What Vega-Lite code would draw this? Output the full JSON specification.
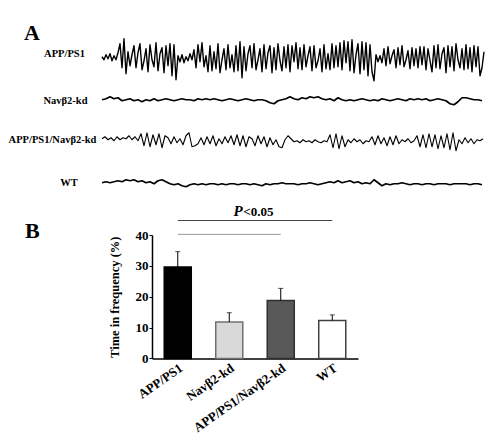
{
"$schema": "https://vega.github.io/schema/vega-lite/v6.json",
"background": "white",
"padding": {"left": 8, "top": 22, "right": 5, "bottom": 5},
"bounds": "flush",
"spacing": 0,
"config": {"view": {"stroke": null}, "font": "Liberation Serif", "axis": {"labelOverlap": false, "labelSeparation": 0}},
"datasets": {"eeg": [
{"trace":"APP/PS1","t":0,"v":1},{"trace":"APP/PS1","t":2,"v":-2},{"trace":"APP/PS1","t":4,"v":3},{"trace":"APP/PS1","t":6,"v":-1},{"trace":"APP/PS1","t":8,"v":4},{"trace":"APP/PS1","t":10,"v":-3},{"trace":"APP/PS1","t":12,"v":2},{"trace":"APP/PS1","t":14,"v":-2},{"trace":"APP/PS1","t":16,"v":5},
{"trace":"APP/PS1","t":18,"v":14},{"trace":"APP/PS1","t":20,"v":-10},{"trace":"APP/PS1","t":22,"v":19},{"trace":"APP/PS1","t":24,"v":-16},
{"trace":"APP/PS1","t":26,"v":6},{"trace":"APP/PS1","t":28,"v":-8},{"trace":"APP/PS1","t":30,"v":3},
{"trace":"APP/PS1","t":32,"v":12},{"trace":"APP/PS1","t":34,"v":-10},{"trace":"APP/PS1","t":36,"v":5},{"trace":"APP/PS1","t":38,"v":14},{"trace":"APP/PS1","t":40,"v":-12},{"trace":"APP/PS1","t":42,"v":-3},{"trace":"APP/PS1","t":44,"v":9},{"trace":"APP/PS1","t":46,"v":-14},{"trace":"APP/PS1","t":48,"v":13},{"trace":"APP/PS1","t":50,"v":-2},
{"trace":"APP/PS1","t":52,"v":-9},{"trace":"APP/PS1","t":54,"v":15},{"trace":"APP/PS1","t":56,"v":-13},{"trace":"APP/PS1","t":58,"v":4},{"trace":"APP/PS1","t":60,"v":10},{"trace":"APP/PS1","t":62,"v":-15},{"trace":"APP/PS1","t":64,"v":12},{"trace":"APP/PS1","t":66,"v":-8},{"trace":"APP/PS1","t":68,"v":14},{"trace":"APP/PS1","t":70,"v":-18},
{"trace":"APP/PS1","t":72,"v":13},{"trace":"APP/PS1","t":74,"v":-22},
{"trace":"APP/PS1","t":76,"v":2},{"trace":"APP/PS1","t":78,"v":-4},{"trace":"APP/PS1","t":80,"v":3},{"trace":"APP/PS1","t":82,"v":-5},{"trace":"APP/PS1","t":84,"v":1},{"trace":"APP/PS1","t":86,"v":-3},{"trace":"APP/PS1","t":88,"v":4},{"trace":"APP/PS1","t":90,"v":-2},
{"trace":"APP/PS1","t":92,"v":8},{"trace":"APP/PS1","t":94,"v":-10},{"trace":"APP/PS1","t":96,"v":13},{"trace":"APP/PS1","t":98,"v":-4},{"trace":"APP/PS1","t":100,"v":15},{"trace":"APP/PS1","t":102,"v":-9},{"trace":"APP/PS1","t":104,"v":2},{"trace":"APP/PS1","t":106,"v":-14},{"trace":"APP/PS1","t":108,"v":12},{"trace":"APP/PS1","t":110,"v":-13},
{"trace":"APP/PS1","t":112,"v":6},{"trace":"APP/PS1","t":114,"v":-11},{"trace":"APP/PS1","t":116,"v":14},{"trace":"APP/PS1","t":118,"v":-15},{"trace":"APP/PS1","t":120,"v":-2},{"trace":"APP/PS1","t":122,"v":9},{"trace":"APP/PS1","t":124,"v":-12},{"trace":"APP/PS1","t":126,"v":13},{"trace":"APP/PS1","t":128,"v":-10},{"trace":"APP/PS1","t":130,"v":3},
{"trace":"APP/PS1","t":132,"v":-14},{"trace":"APP/PS1","t":134,"v":12},{"trace":"APP/PS1","t":136,"v":-13},
{"trace":"APP/PS1","t":138,"v":16},{"trace":"APP/PS1","t":140,"v":-20},
{"trace":"APP/PS1","t":142,"v":11},{"trace":"APP/PS1","t":144,"v":-13},{"trace":"APP/PS1","t":146,"v":4},{"trace":"APP/PS1","t":148,"v":12},{"trace":"APP/PS1","t":150,"v":-10},{"trace":"APP/PS1","t":152,"v":14},{"trace":"APP/PS1","t":154,"v":-12},{"trace":"APP/PS1","t":156,"v":-2},{"trace":"APP/PS1","t":158,"v":9},{"trace":"APP/PS1","t":160,"v":-14},
{"trace":"APP/PS1","t":162,"v":13},{"trace":"APP/PS1","t":164,"v":-11},{"trace":"APP/PS1","t":166,"v":5},{"trace":"APP/PS1","t":168,"v":12},{"trace":"APP/PS1","t":170,"v":-15},{"trace":"APP/PS1","t":172,"v":10},{"trace":"APP/PS1","t":174,"v":-12},{"trace":"APP/PS1","t":176,"v":14},{"trace":"APP/PS1","t":178,"v":-3},{"trace":"APP/PS1","t":180,"v":-13},
{"trace":"APP/PS1","t":182,"v":11},{"trace":"APP/PS1","t":184,"v":-10},{"trace":"APP/PS1","t":186,"v":13},{"trace":"APP/PS1","t":188,"v":-14},{"trace":"APP/PS1","t":190,"v":12},{"trace":"APP/PS1","t":192,"v":-4},{"trace":"APP/PS1","t":194,"v":15},{"trace":"APP/PS1","t":196,"v":-11},
{"trace":"APP/PS1","t":198,"v":10},{"trace":"APP/PS1","t":200,"v":-12},{"trace":"APP/PS1","t":202,"v":13},{"trace":"APP/PS1","t":204,"v":-9},{"trace":"APP/PS1","t":206,"v":2},{"trace":"APP/PS1","t":208,"v":11},{"trace":"APP/PS1","t":210,"v":-13},{"trace":"APP/PS1","t":212,"v":12},{"trace":"APP/PS1","t":214,"v":-10},{"trace":"APP/PS1","t":216,"v":-3},
{"trace":"APP/PS1","t":218,"v":9},{"trace":"APP/PS1","t":220,"v":-14},{"trace":"APP/PS1","t":222,"v":13},{"trace":"APP/PS1","t":224,"v":-11},{"trace":"APP/PS1","t":226,"v":4},{"trace":"APP/PS1","t":228,"v":-12},{"trace":"APP/PS1","t":230,"v":14},{"trace":"APP/PS1","t":232,"v":-10},{"trace":"APP/PS1","t":234,"v":12},{"trace":"APP/PS1","t":236,"v":-9},
{"trace":"APP/PS1","t":238,"v":15},{"trace":"APP/PS1","t":240,"v":-12},{"trace":"APP/PS1","t":242,"v":17},{"trace":"APP/PS1","t":244,"v":-5},{"trace":"APP/PS1","t":246,"v":16},{"trace":"APP/PS1","t":248,"v":-13},{"trace":"APP/PS1","t":250,"v":18},{"trace":"APP/PS1","t":252,"v":-15},{"trace":"APP/PS1","t":254,"v":3},{"trace":"APP/PS1","t":256,"v":14},
{"trace":"APP/PS1","t":258,"v":-16},{"trace":"APP/PS1","t":260,"v":16},{"trace":"APP/PS1","t":262,"v":-12},{"trace":"APP/PS1","t":264,"v":15},{"trace":"APP/PS1","t":266,"v":-18},{"trace":"APP/PS1","t":268,"v":13},{"trace":"APP/PS1","t":270,"v":-14},{"trace":"APP/PS1","t":272,"v":-23},
{"trace":"APP/PS1","t":274,"v":3},{"trace":"APP/PS1","t":276,"v":-4},{"trace":"APP/PS1","t":278,"v":2},{"trace":"APP/PS1","t":280,"v":-5},
{"trace":"APP/PS1","t":282,"v":9},{"trace":"APP/PS1","t":284,"v":-8},{"trace":"APP/PS1","t":286,"v":11},{"trace":"APP/PS1","t":288,"v":-6},{"trace":"APP/PS1","t":290,"v":2},{"trace":"APP/PS1","t":292,"v":8},{"trace":"APP/PS1","t":294,"v":-10},{"trace":"APP/PS1","t":296,"v":10},{"trace":"APP/PS1","t":298,"v":-7},{"trace":"APP/PS1","t":300,"v":12},
{"trace":"APP/PS1","t":302,"v":-9},{"trace":"APP/PS1","t":304,"v":-2},{"trace":"APP/PS1","t":306,"v":7},{"trace":"APP/PS1","t":308,"v":-11},{"trace":"APP/PS1","t":310,"v":10},{"trace":"APP/PS1","t":312,"v":-8},{"trace":"APP/PS1","t":314,"v":9},{"trace":"APP/PS1","t":316,"v":-10},{"trace":"APP/PS1","t":318,"v":11},{"trace":"APP/PS1","t":320,"v":-7},
{"trace":"APP/PS1","t":322,"v":11},{"trace":"APP/PS1","t":324,"v":-12},{"trace":"APP/PS1","t":326,"v":9},{"trace":"APP/PS1","t":328,"v":-3},{"trace":"APP/PS1","t":330,"v":-14},{"trace":"APP/PS1","t":332,"v":12},{"trace":"APP/PS1","t":334,"v":-10},{"trace":"APP/PS1","t":336,"v":13},{"trace":"APP/PS1","t":338,"v":-11},{"trace":"APP/PS1","t":340,"v":4},
{"trace":"APP/PS1","t":342,"v":10},{"trace":"APP/PS1","t":344,"v":-15},{"trace":"APP/PS1","t":346,"v":12},{"trace":"APP/PS1","t":348,"v":-9},{"trace":"APP/PS1","t":350,"v":11},{"trace":"APP/PS1","t":352,"v":-13},{"trace":"APP/PS1","t":354,"v":14},{"trace":"APP/PS1","t":356,"v":-2},{"trace":"APP/PS1","t":358,"v":-10},{"trace":"APP/PS1","t":360,"v":9},
{"trace":"APP/PS1","t":362,"v":-12},{"trace":"APP/PS1","t":364,"v":13},{"trace":"APP/PS1","t":366,"v":-11},{"trace":"APP/PS1","t":368,"v":10},{"trace":"APP/PS1","t":370,"v":-14},{"trace":"APP/PS1","t":372,"v":12},{"trace":"APP/PS1","t":374,"v":-9},{"trace":"APP/PS1","t":376,"v":11},{"trace":"APP/PS1","t":378,"v":-18},{"trace":"APP/PS1","t":380,"v":-10},
{"trace":"APP/PS1","t":382,"v":6},
{"trace":"Navβ2-kd","t":0,"v":0},{"trace":"Navβ2-kd","t":4,"v":1},{"trace":"Navβ2-kd","t":8,"v":3},{"trace":"Navβ2-kd","t":12,"v":1},{"trace":"Navβ2-kd","t":16,"v":2},{"trace":"Navβ2-kd","t":20,"v":-1},{"trace":"Navβ2-kd","t":24,"v":0},{"trace":"Navβ2-kd","t":28,"v":1},{"trace":"Navβ2-kd","t":32,"v":-1},{"trace":"Navβ2-kd","t":36,"v":0},
{"trace":"Navβ2-kd","t":40,"v":-2},{"trace":"Navβ2-kd","t":44,"v":0},{"trace":"Navβ2-kd","t":48,"v":-1},{"trace":"Navβ2-kd","t":52,"v":1},{"trace":"Navβ2-kd","t":56,"v":-1},{"trace":"Navβ2-kd","t":60,"v":0},{"trace":"Navβ2-kd","t":64,"v":1},{"trace":"Navβ2-kd","t":68,"v":0},{"trace":"Navβ2-kd","t":72,"v":-1},{"trace":"Navβ2-kd","t":76,"v":0},
{"trace":"Navβ2-kd","t":80,"v":1},{"trace":"Navβ2-kd","t":84,"v":0},{"trace":"Navβ2-kd","t":88,"v":0},{"trace":"Navβ2-kd","t":92,"v":-1},{"trace":"Navβ2-kd","t":96,"v":1},{"trace":"Navβ2-kd","t":100,"v":0},{"trace":"Navβ2-kd","t":104,"v":1},{"trace":"Navβ2-kd","t":108,"v":0},{"trace":"Navβ2-kd","t":112,"v":1},{"trace":"Navβ2-kd","t":116,"v":0},
{"trace":"Navβ2-kd","t":120,"v":-1},{"trace":"Navβ2-kd","t":124,"v":0},{"trace":"Navβ2-kd","t":128,"v":1},{"trace":"Navβ2-kd","t":132,"v":0},{"trace":"Navβ2-kd","t":136,"v":-1},{"trace":"Navβ2-kd","t":140,"v":0},{"trace":"Navβ2-kd","t":144,"v":1},{"trace":"Navβ2-kd","t":148,"v":0},{"trace":"Navβ2-kd","t":152,"v":-1},{"trace":"Navβ2-kd","t":156,"v":0},
{"trace":"Navβ2-kd","t":160,"v":0},{"trace":"Navβ2-kd","t":164,"v":-1},{"trace":"Navβ2-kd","t":168,"v":-3},{"trace":"Navβ2-kd","t":172,"v":-4},{"trace":"Navβ2-kd","t":176,"v":-1},{"trace":"Navβ2-kd","t":180,"v":0},{"trace":"Navβ2-kd","t":184,"v":1},{"trace":"Navβ2-kd","t":188,"v":3},{"trace":"Navβ2-kd","t":192,"v":1},{"trace":"Navβ2-kd","t":196,"v":0},
{"trace":"Navβ2-kd","t":200,"v":2},{"trace":"Navβ2-kd","t":204,"v":1},{"trace":"Navβ2-kd","t":208,"v":3},{"trace":"Navβ2-kd","t":212,"v":2},{"trace":"Navβ2-kd","t":216,"v":3},{"trace":"Navβ2-kd","t":220,"v":1},{"trace":"Navβ2-kd","t":224,"v":0},{"trace":"Navβ2-kd","t":228,"v":1},{"trace":"Navβ2-kd","t":232,"v":-1},{"trace":"Navβ2-kd","t":236,"v":2},
{"trace":"Navβ2-kd","t":240,"v":0},{"trace":"Navβ2-kd","t":244,"v":-1},{"trace":"Navβ2-kd","t":248,"v":0},{"trace":"Navβ2-kd","t":252,"v":-1},{"trace":"Navβ2-kd","t":256,"v":0},{"trace":"Navβ2-kd","t":260,"v":1},{"trace":"Navβ2-kd","t":264,"v":0},{"trace":"Navβ2-kd","t":268,"v":-1},{"trace":"Navβ2-kd","t":272,"v":0},{"trace":"Navβ2-kd","t":276,"v":-1},
{"trace":"Navβ2-kd","t":280,"v":1},{"trace":"Navβ2-kd","t":284,"v":0},{"trace":"Navβ2-kd","t":288,"v":-1},{"trace":"Navβ2-kd","t":292,"v":0},{"trace":"Navβ2-kd","t":296,"v":1},{"trace":"Navβ2-kd","t":300,"v":0},{"trace":"Navβ2-kd","t":304,"v":-1},{"trace":"Navβ2-kd","t":308,"v":1},{"trace":"Navβ2-kd","t":312,"v":0},{"trace":"Navβ2-kd","t":316,"v":1},
{"trace":"Navβ2-kd","t":320,"v":0},{"trace":"Navβ2-kd","t":324,"v":1},{"trace":"Navβ2-kd","t":328,"v":-1},{"trace":"Navβ2-kd","t":332,"v":0},{"trace":"Navβ2-kd","t":336,"v":1},{"trace":"Navβ2-kd","t":340,"v":0},{"trace":"Navβ2-kd","t":344,"v":-1},{"trace":"Navβ2-kd","t":348,"v":-4},{"trace":"Navβ2-kd","t":352,"v":-5},{"trace":"Navβ2-kd","t":356,"v":-2},
{"trace":"Navβ2-kd","t":360,"v":2},{"trace":"Navβ2-kd","t":364,"v":2},{"trace":"Navβ2-kd","t":368,"v":1},{"trace":"Navβ2-kd","t":372,"v":0},{"trace":"Navβ2-kd","t":376,"v":0},{"trace":"Navβ2-kd","t":380,"v":-1},
{"trace":"APP/PS1/Navβ2-kd","t":0,"v":3},{"trace":"APP/PS1/Navβ2-kd","t":3,"v":5},{"trace":"APP/PS1/Navβ2-kd","t":6,"v":2},{"trace":"APP/PS1/Navβ2-kd","t":9,"v":4},{"trace":"APP/PS1/Navβ2-kd","t":12,"v":1},{"trace":"APP/PS1/Navβ2-kd","t":15,"v":5},{"trace":"APP/PS1/Navβ2-kd","t":18,"v":2},{"trace":"APP/PS1/Navβ2-kd","t":21,"v":4},{"trace":"APP/PS1/Navβ2-kd","t":24,"v":3},{"trace":"APP/PS1/Navβ2-kd","t":27,"v":6},
{"trace":"APP/PS1/Navβ2-kd","t":30,"v":2},{"trace":"APP/PS1/Navβ2-kd","t":33,"v":5},{"trace":"APP/PS1/Navβ2-kd","t":36,"v":1},{"trace":"APP/PS1/Navβ2-kd","t":39,"v":8},{"trace":"APP/PS1/Navβ2-kd","t":42,"v":-4},{"trace":"APP/PS1/Navβ2-kd","t":45,"v":9},{"trace":"APP/PS1/Navβ2-kd","t":48,"v":-5},{"trace":"APP/PS1/Navβ2-kd","t":51,"v":7},{"trace":"APP/PS1/Navβ2-kd","t":54,"v":-3},{"trace":"APP/PS1/Navβ2-kd","t":57,"v":8},
{"trace":"APP/PS1/Navβ2-kd","t":60,"v":-6},{"trace":"APP/PS1/Navβ2-kd","t":63,"v":6},{"trace":"APP/PS1/Navβ2-kd","t":66,"v":4},{"trace":"APP/PS1/Navβ2-kd","t":69,"v":-2},{"trace":"APP/PS1/Navβ2-kd","t":72,"v":5},{"trace":"APP/PS1/Navβ2-kd","t":75,"v":-1},{"trace":"APP/PS1/Navβ2-kd","t":78,"v":3},{"trace":"APP/PS1/Navβ2-kd","t":81,"v":-3},{"trace":"APP/PS1/Navβ2-kd","t":84,"v":6},{"trace":"APP/PS1/Navβ2-kd","t":87,"v":9},
{"trace":"APP/PS1/Navβ2-kd","t":90,"v":-5},{"trace":"APP/PS1/Navβ2-kd","t":93,"v":-4},{"trace":"APP/PS1/Navβ2-kd","t":96,"v":-2},{"trace":"APP/PS1/Navβ2-kd","t":99,"v":4},{"trace":"APP/PS1/Navβ2-kd","t":102,"v":-3},{"trace":"APP/PS1/Navβ2-kd","t":105,"v":5},{"trace":"APP/PS1/Navβ2-kd","t":108,"v":-2},{"trace":"APP/PS1/Navβ2-kd","t":111,"v":6},{"trace":"APP/PS1/Navβ2-kd","t":114,"v":-4},{"trace":"APP/PS1/Navβ2-kd","t":117,"v":3},
{"trace":"APP/PS1/Navβ2-kd","t":120,"v":-2},{"trace":"APP/PS1/Navβ2-kd","t":123,"v":5},{"trace":"APP/PS1/Navβ2-kd","t":126,"v":-1},{"trace":"APP/PS1/Navβ2-kd","t":129,"v":6},{"trace":"APP/PS1/Navβ2-kd","t":132,"v":-3},{"trace":"APP/PS1/Navβ2-kd","t":135,"v":7},{"trace":"APP/PS1/Navβ2-kd","t":138,"v":-4},{"trace":"APP/PS1/Navβ2-kd","t":141,"v":6},{"trace":"APP/PS1/Navβ2-kd","t":144,"v":-5},{"trace":"APP/PS1/Navβ2-kd","t":147,"v":5},
{"trace":"APP/PS1/Navβ2-kd","t":150,"v":3},{"trace":"APP/PS1/Navβ2-kd","t":153,"v":-4},{"trace":"APP/PS1/Navβ2-kd","t":156,"v":6},{"trace":"APP/PS1/Navβ2-kd","t":159,"v":-2},{"trace":"APP/PS1/Navβ2-kd","t":162,"v":5},{"trace":"APP/PS1/Navβ2-kd","t":165,"v":-5},{"trace":"APP/PS1/Navβ2-kd","t":168,"v":4},{"trace":"APP/PS1/Navβ2-kd","t":171,"v":-3},{"trace":"APP/PS1/Navβ2-kd","t":174,"v":2},{"trace":"APP/PS1/Navβ2-kd","t":177,"v":-5},
{"trace":"APP/PS1/Navβ2-kd","t":180,"v":-6},{"trace":"APP/PS1/Navβ2-kd","t":183,"v":2},{"trace":"APP/PS1/Navβ2-kd","t":186,"v":6},{"trace":"APP/PS1/Navβ2-kd","t":189,"v":3},{"trace":"APP/PS1/Navβ2-kd","t":192,"v":0},{"trace":"APP/PS1/Navβ2-kd","t":195,"v":1},{"trace":"APP/PS1/Navβ2-kd","t":198,"v":-1},{"trace":"APP/PS1/Navβ2-kd","t":201,"v":2},{"trace":"APP/PS1/Navβ2-kd","t":204,"v":0},{"trace":"APP/PS1/Navβ2-kd","t":207,"v":1},
{"trace":"APP/PS1/Navβ2-kd","t":210,"v":-1},{"trace":"APP/PS1/Navβ2-kd","t":213,"v":2},{"trace":"APP/PS1/Navβ2-kd","t":216,"v":0},{"trace":"APP/PS1/Navβ2-kd","t":219,"v":-1},{"trace":"APP/PS1/Navβ2-kd","t":222,"v":1},{"trace":"APP/PS1/Navβ2-kd","t":225,"v":0},{"trace":"APP/PS1/Navβ2-kd","t":228,"v":7},{"trace":"APP/PS1/Navβ2-kd","t":231,"v":-6},{"trace":"APP/PS1/Navβ2-kd","t":234,"v":8},{"trace":"APP/PS1/Navβ2-kd","t":237,"v":-7},
{"trace":"APP/PS1/Navβ2-kd","t":240,"v":6},{"trace":"APP/PS1/Navβ2-kd","t":243,"v":-5},{"trace":"APP/PS1/Navβ2-kd","t":246,"v":2},{"trace":"APP/PS1/Navβ2-kd","t":249,"v":-1},{"trace":"APP/PS1/Navβ2-kd","t":252,"v":3},{"trace":"APP/PS1/Navβ2-kd","t":255,"v":0},{"trace":"APP/PS1/Navβ2-kd","t":258,"v":2},{"trace":"APP/PS1/Navβ2-kd","t":261,"v":-2},{"trace":"APP/PS1/Navβ2-kd","t":264,"v":1},{"trace":"APP/PS1/Navβ2-kd","t":267,"v":0},
{"trace":"APP/PS1/Navβ2-kd","t":270,"v":5},{"trace":"APP/PS1/Navβ2-kd","t":273,"v":-3},{"trace":"APP/PS1/Navβ2-kd","t":276,"v":6},{"trace":"APP/PS1/Navβ2-kd","t":279,"v":-2},{"trace":"APP/PS1/Navβ2-kd","t":282,"v":4},{"trace":"APP/PS1/Navβ2-kd","t":285,"v":-4},{"trace":"APP/PS1/Navβ2-kd","t":288,"v":5},{"trace":"APP/PS1/Navβ2-kd","t":291,"v":-3},{"trace":"APP/PS1/Navβ2-kd","t":294,"v":6},{"trace":"APP/PS1/Navβ2-kd","t":297,"v":-2},
{"trace":"APP/PS1/Navβ2-kd","t":300,"v":2},{"trace":"APP/PS1/Navβ2-kd","t":303,"v":0},{"trace":"APP/PS1/Navβ2-kd","t":306,"v":3},{"trace":"APP/PS1/Navβ2-kd","t":309,"v":-1},{"trace":"APP/PS1/Navβ2-kd","t":312,"v":1},{"trace":"APP/PS1/Navβ2-kd","t":315,"v":6},{"trace":"APP/PS1/Navβ2-kd","t":318,"v":-5},{"trace":"APP/PS1/Navβ2-kd","t":321,"v":7},{"trace":"APP/PS1/Navβ2-kd","t":324,"v":-6},{"trace":"APP/PS1/Navβ2-kd","t":327,"v":8},
{"trace":"APP/PS1/Navβ2-kd","t":330,"v":-5},{"trace":"APP/PS1/Navβ2-kd","t":333,"v":7},{"trace":"APP/PS1/Navβ2-kd","t":336,"v":-7},{"trace":"APP/PS1/Navβ2-kd","t":339,"v":6},{"trace":"APP/PS1/Navβ2-kd","t":342,"v":-6},{"trace":"APP/PS1/Navβ2-kd","t":345,"v":8},{"trace":"APP/PS1/Navβ2-kd","t":348,"v":-8},{"trace":"APP/PS1/Navβ2-kd","t":351,"v":9},{"trace":"APP/PS1/Navβ2-kd","t":354,"v":-9},{"trace":"APP/PS1/Navβ2-kd","t":357,"v":2},
{"trace":"APP/PS1/Navβ2-kd","t":360,"v":-2},{"trace":"APP/PS1/Navβ2-kd","t":363,"v":4},{"trace":"APP/PS1/Navβ2-kd","t":366,"v":-1},{"trace":"APP/PS1/Navβ2-kd","t":369,"v":3},{"trace":"APP/PS1/Navβ2-kd","t":372,"v":-2},{"trace":"APP/PS1/Navβ2-kd","t":375,"v":2},{"trace":"APP/PS1/Navβ2-kd","t":378,"v":1},{"trace":"APP/PS1/Navβ2-kd","t":381,"v":3},
{"trace":"WT","t":0,"v":1},{"trace":"WT","t":4,"v":2},{"trace":"WT","t":8,"v":1},{"trace":"WT","t":12,"v":2},{"trace":"WT","t":16,"v":3},{"trace":"WT","t":20,"v":2},{"trace":"WT","t":24,"v":4},{"trace":"WT","t":28,"v":3},{"trace":"WT","t":32,"v":4},{"trace":"WT","t":36,"v":2},
{"trace":"WT","t":40,"v":3},{"trace":"WT","t":44,"v":1},{"trace":"WT","t":48,"v":2},{"trace":"WT","t":52,"v":0},{"trace":"WT","t":56,"v":3},{"trace":"WT","t":60,"v":4},{"trace":"WT","t":64,"v":2},{"trace":"WT","t":68,"v":0},{"trace":"WT","t":72,"v":-1},{"trace":"WT","t":76,"v":0},
{"trace":"WT","t":80,"v":-2},{"trace":"WT","t":84,"v":-3},{"trace":"WT","t":88,"v":-1},{"trace":"WT","t":92,"v":0},{"trace":"WT","t":96,"v":-1},{"trace":"WT","t":100,"v":0},{"trace":"WT","t":104,"v":-1},{"trace":"WT","t":108,"v":0},{"trace":"WT","t":112,"v":0},{"trace":"WT","t":116,"v":-1},
{"trace":"WT","t":120,"v":0},{"trace":"WT","t":124,"v":-1},{"trace":"WT","t":128,"v":0},{"trace":"WT","t":132,"v":0},{"trace":"WT","t":136,"v":-1},{"trace":"WT","t":140,"v":0},{"trace":"WT","t":144,"v":0},{"trace":"WT","t":148,"v":-1},{"trace":"WT","t":152,"v":0},{"trace":"WT","t":156,"v":-1},
{"trace":"WT","t":160,"v":-2},{"trace":"WT","t":164,"v":0},{"trace":"WT","t":168,"v":-1},{"trace":"WT","t":172,"v":0},{"trace":"WT","t":176,"v":0},{"trace":"WT","t":180,"v":1},{"trace":"WT","t":184,"v":0},{"trace":"WT","t":188,"v":0},{"trace":"WT","t":192,"v":0},{"trace":"WT","t":196,"v":-1},
{"trace":"WT","t":200,"v":0},{"trace":"WT","t":204,"v":0},{"trace":"WT","t":208,"v":1},{"trace":"WT","t":212,"v":0},{"trace":"WT","t":216,"v":-1},{"trace":"WT","t":220,"v":0},{"trace":"WT","t":224,"v":1},{"trace":"WT","t":228,"v":2},{"trace":"WT","t":232,"v":1},{"trace":"WT","t":236,"v":3},
{"trace":"WT","t":240,"v":1},{"trace":"WT","t":244,"v":2},{"trace":"WT","t":248,"v":3},{"trace":"WT","t":252,"v":1},{"trace":"WT","t":256,"v":2},{"trace":"WT","t":260,"v":0},{"trace":"WT","t":264,"v":1},{"trace":"WT","t":268,"v":0},{"trace":"WT","t":272,"v":4},{"trace":"WT","t":276,"v":1},
{"trace":"WT","t":280,"v":-2},{"trace":"WT","t":284,"v":0},{"trace":"WT","t":288,"v":-1},{"trace":"WT","t":292,"v":0},{"trace":"WT","t":296,"v":0},{"trace":"WT","t":300,"v":1},{"trace":"WT","t":304,"v":0},{"trace":"WT","t":308,"v":-1},{"trace":"WT","t":312,"v":0},{"trace":"WT","t":316,"v":0},
{"trace":"WT","t":320,"v":-1},{"trace":"WT","t":324,"v":0},{"trace":"WT","t":328,"v":0},{"trace":"WT","t":332,"v":-1},{"trace":"WT","t":336,"v":0},{"trace":"WT","t":340,"v":0},{"trace":"WT","t":344,"v":0},{"trace":"WT","t":348,"v":-1},{"trace":"WT","t":352,"v":0},{"trace":"WT","t":356,"v":0},
{"trace":"WT","t":360,"v":0},{"trace":"WT","t":364,"v":0},{"trace":"WT","t":368,"v":-1},{"trace":"WT","t":372,"v":0},{"trace":"WT","t":376,"v":0},{"trace":"WT","t":380,"v":-1}
]},
"vconcat": [
{
 "title": {"text": "A", "anchor": "start", "frame": "group", "font": "Liberation Serif", "fontSize": 22, "fontWeight": "bold", "color": "black", "dx": -128, "dy": 8, "offset": 0},
 "width": 333, "height": 41.5,
 "data": {"name": "eeg"},
 "transform": [{"filter": "datum.trace === 'APP/PS1'"}],
 "mark": {"type": "line", "color": "black", "strokeWidth": 1.4, "strokeJoin": "round"},
 "encoding": {
  "x": {"field": "t", "type": "quantitative", "scale": {"domain": [50, 383], "nice": false, "zero": false}, "axis": null},
  "y": {"field": "v", "type": "quantitative", "scale": {"domain": [-20.75, 20.75], "nice": false, "zero": false},
   "axis": {"title": "APP/PS1", "titleAngle": 0, "titleAlign": "center", "titleBaseline": "middle", "titleX": -88, "titleY": 16.2, "titleFont": "Liberation Serif", "titleFontWeight": "bold", "titleFontSize": 10.5, "titleColor": "black", "domain": false, "ticks": false, "labels": false, "grid": false}}
 }
},
{
 "width": 333, "height": 41.5,
 "data": {"name": "eeg"},
 "transform": [{"filter": "datum.trace === 'Navβ2-kd'"}],
 "mark": {"type": "line", "color": "black", "strokeWidth": 1.7, "strokeJoin": "round"},
 "encoding": {
  "x": {"field": "t", "type": "quantitative", "scale": {"domain": [50, 383], "nice": false, "zero": false}, "axis": null},
  "y": {"field": "v", "type": "quantitative", "scale": {"domain": [-20.75, 20.75], "nice": false, "zero": false},
   "axis": {"title": "Navβ2-kd", "titleAngle": 0, "titleAlign": "center", "titleBaseline": "middle", "titleX": -87, "titleY": 21.7, "titleFont": "Liberation Serif", "titleFontWeight": "bold", "titleFontSize": 10.5, "titleColor": "black", "domain": false, "ticks": false, "labels": false, "grid": false}}
 }
},
{
 "width": 333, "height": 41.5,
 "data": {"name": "eeg"},
 "transform": [{"filter": "datum.trace === 'APP/PS1/Navβ2-kd'"}],
 "mark": {"type": "line", "color": "black", "strokeWidth": 1.1, "strokeJoin": "round"},
 "encoding": {
  "x": {"field": "t", "type": "quantitative", "scale": {"domain": [50, 383], "nice": false, "zero": false}, "axis": null},
  "y": {"field": "v", "type": "quantitative", "scale": {"domain": [-20.75, 20.75], "nice": false, "zero": false},
   "axis": {"title": "APP/PS1/Navβ2-kd", "titleAngle": 0, "titleAlign": "center", "titleBaseline": "middle", "titleX": -100, "titleY": 18, "titleFont": "Liberation Serif", "titleFontWeight": "bold", "titleFontSize": 10.5, "titleColor": "black", "domain": false, "ticks": false, "labels": false, "grid": false}}
 }
},
{
 "width": 333, "height": 71.3,
 "data": {"name": "eeg"},
 "transform": [{"filter": "datum.trace === 'WT'"}],
 "mark": {"type": "line", "color": "black", "strokeWidth": 1.7, "strokeJoin": "round"},
 "encoding": {
  "x": {"field": "t", "type": "quantitative", "scale": {"domain": [50, 383], "nice": false, "zero": false}, "axis": null},
  "y": {"field": "v", "type": "quantitative", "scale": {"domain": [-50.55, 20.75], "nice": false, "zero": false},
   "axis": {"title": "WT", "titleAngle": 0, "titleAlign": "center", "titleBaseline": "middle", "titleX": -83.5, "titleY": 19, "titleFont": "Liberation Serif", "titleFontWeight": "bold", "titleFontSize": 10.5, "titleColor": "black", "domain": false, "ticks": false, "labels": false, "grid": false}}
 }
},
{
 "title": {"text": "B", "anchor": "start", "frame": "group", "font": "Liberation Serif", "fontSize": 22, "fontWeight": "bold", "color": "black", "dx": -127, "dy": 39, "offset": 0},
 "width": 206, "height": 123.4,
 "data": {"values": [
  {"group": "APP/PS1", "value": 29.6, "upper": 34.6},
  {"group": "Navβ2-kd", "value": 11.8, "upper": 14.8},
  {"group": "APP/PS1/Navβ2-kd", "value": 18.8, "upper": 22.7},
  {"group": "WT", "value": 12.3, "upper": 14.1}
 ]},
 "encoding": {
  "x": {"field": "group", "type": "nominal", "sort": null, "scale": {"domain": ["APP/PS1", "Navβ2-kd", "APP/PS1/Navβ2-kd", "WT"], "paddingInner": 0.475, "paddingOuter": 0.2375},
    "axis": {"title": null, "labelAngle": -35, "labelAlign": "right", "labelBaseline": "top", "labelPadding": 3, "labelFont": "Liberation Serif", "labelFontWeight": "bold", "labelFontSize": 13, "labelColor": "black", "ticks": false, "domainColor": "black", "domainWidth": 1.5}},
  "y": {"field": "value", "type": "quantitative", "scale": {"domain": [0, 40], "nice": false},
    "axis": {"tickCount": 8, "values": [0, 5, 10, 15, 20, 25, 30, 35, 40], "labelExpr": "datum.value % 10 === 0 ? datum.label : ''", "labelOverlap": false, "labelSeparation": 0, "labelBound": false, "grid": false, "title": "Time in frequency (%)", "titleFont": "Liberation Serif", "titleFontWeight": "bold", "titleFontSize": 12.5, "titleColor": "black", "titlePadding": 14, "labelFont": "Liberation Serif", "labelFontWeight": "bold", "labelFontSize": 13, "labelColor": "black", "labelPadding": 1, "tickColor": "black", "tickSize": 3, "domainColor": "black", "domainWidth": 1.5}}
 },
 "layer": [
  {
   "mark": {"type": "bar", "strokeWidth": 1.5},
   "encoding": {
    "fill": {"field": "group", "type": "nominal", "scale": {"domain": ["APP/PS1", "Navβ2-kd", "APP/PS1/Navβ2-kd", "WT"], "range": ["#000000", "#d9d9d9", "#595959", "#ffffff"]}, "legend": null},
    "stroke": {"field": "group", "type": "nominal", "scale": {"domain": ["APP/PS1", "Navβ2-kd", "APP/PS1/Navβ2-kd", "WT"], "range": ["#000000", "#707070", "#303030", "#404040"]}, "legend": null}
   }
  },
  {
   "mark": {"type": "rule", "color": "black", "strokeWidth": 1},
   "encoding": {"y2": {"field": "upper"}}
  },
  {
   "mark": {"type": "tick", "color": "black", "thickness": 1, "size": 5, "orient": "horizontal"},
   "encoding": {"y": {"field": "upper", "type": "quantitative"}}
  },
  {
   "data": {"values": [
    {"from": "APP/PS1", "to": "WT", "y": 44.7, "line": "top"},
    {"from": "APP/PS1", "to": "APP/PS1/Navβ2-kd", "y": 40.2, "line": "low"}
   ]},
   "mark": {"type": "rule", "strokeWidth": 1},
   "encoding": {
    "x": {"field": "from", "type": "nominal", "sort": null, "bandPosition": 0.5},
    "x2": {"field": "to", "bandPosition": 0.5},
    "y": {"field": "y", "type": "quantitative"},
    "color": {"field": "line", "type": "nominal", "scale": {"domain": ["top", "low"], "range": ["#444444", "#9a9a9a"]}, "legend": null}
   }
  },
  {
   "data": {"values": [{"pos": "Navβ2-kd", "y": 46.2, "p": "P", "rest": "<0.05"}]},
   "mark": {"type": "text", "align": "right", "baseline": "alphabetic", "dx": 13.3, "font": "Liberation Serif", "fontSize": 15, "fontWeight": "bold", "fontStyle": "italic", "color": "black"},
   "encoding": {"x": {"field": "pos", "type": "nominal", "sort": null}, "y": {"field": "y", "type": "quantitative"}, "text": {"field": "p"}}
  },
  {
   "data": {"values": [{"pos": "Navβ2-kd", "y": 46.2, "p": "P", "rest": "<0.05"}]},
   "mark": {"type": "text", "align": "left", "baseline": "alphabetic", "dx": 14, "font": "Liberation Serif", "fontSize": 13, "fontWeight": "bold", "color": "black"},
   "encoding": {"x": {"field": "pos", "type": "nominal", "sort": null}, "y": {"field": "y", "type": "quantitative"}, "text": {"field": "rest"}}
  }
 ]
}
]
}
